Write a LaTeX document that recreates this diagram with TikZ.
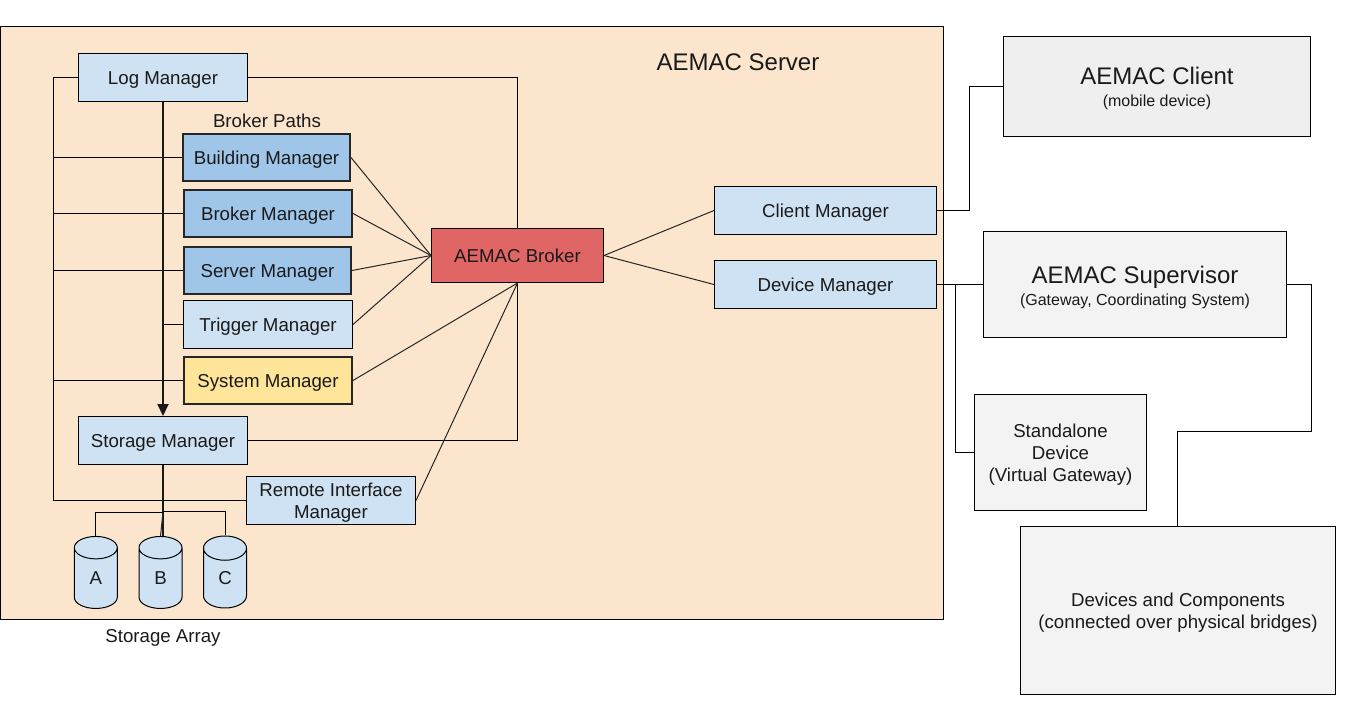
\documentclass[tikz,border=0pt]{standalone}
\usepackage{fontspec}
\setmainfont{Liberation Sans}
\usetikzlibrary{arrows.meta,shapes.geometric}
\definecolor{lightblue}{HTML}{CFE2F3}
\definecolor{midblue}{HTML}{9FC5E8}
\definecolor{sysyellow}{HTML}{FFE599}
\definecolor{brokerred}{HTML}{E06666}
\definecolor{lightgray}{HTML}{F3F3F3}
\definecolor{clientgray}{HTML}{EFEFEF}
\definecolor{serverbg}{HTML}{FCE5CD}
\definecolor{ink}{HTML}{1A1A1A}
\newcommand{\fN}{\fontsize{18.67}{22}\selectfont}
\newcommand{\fL}{\fontsize{24}{28}\selectfont}
\newcommand{\fS}{\fontsize{16}{20}\selectfont}
\newcommand{\rbox}[8][20pt]{\node[basebox,#2,minimum width=#5pt-#3pt,minimum height=#6pt-#4pt] (#7) at ({(#3+#5)/2},{(#4+#6)/2}) {\rule{0pt}{#1}#8\rule[-5.6pt]{0pt}{1pt}};}
\tikzset{
  basebox/.style={draw=black,line width=1pt,rectangle,inner sep=0pt,align=center,font=\fN,text=ink},
  lightbox/.style={fill=lightblue},
  pathbox/.style={fill=midblue,line width=2pt,draw=black!85},
  sysbox/.style={fill=sysyellow,line width=2pt,draw=black!85},
  brokerbox/.style={fill=brokerred},
  outerbox/.style={fill=lightgray},
  clientbox/.style={fill=clientgray},
  link/.style={draw=black,line width=1pt},
  fanlink/.style={draw=black!85,line width=1pt},
  trunk/.style={draw=black!90,line width=2pt},
  disk/.style={shape=cylinder,shape border rotate=90,aspect=1.8,draw=black,line width=1pt,fill=lightblue,
    minimum width=43pt,minimum height=72pt,inner sep=0pt,font=\fN,text=ink},
  caption/.style={inner sep=0pt,font=\fN,text=ink}
}
\begin{document}
\begin{tikzpicture}[x=1pt,y=-1pt]
\useasboundingbox[fill=white] (0,0) rectangle (1372,704);
\rbox{fill=serverbg}{0}{26.5}{943.5}{619.5}{server}{}
\node[caption,font=\fL] (servertitle) at (738,62) {AEMAC Server};
\node[caption] (pathslabel) at (267,121) {Broker Paths};
\node[caption] (arraylabel) at (163,638) {Storage Array};
\rbox{lightbox}{78.5}{53.5}{247.5}{101.5}{log}{Log Manager}
\rbox{pathbox}{183}{134}{350}{181}{bld}{Building Manager}
\rbox{pathbox}{184}{190}{352}{237}{bkm}{Broker Manager}
\rbox{pathbox}{184}{247}{351}{294}{srv}{Server Manager}
\rbox{lightbox}{183.5}{300.5}{352.5}{348.5}{trg}{Trigger Manager}
\rbox{sysbox}{184}{357}{352}{404}{sys}{System Manager}
\rbox{lightbox}{78.5}{416.5}{247.5}{464.5}{sto}{Storage Manager}
\rbox{lightbox}{246.5}{476.5}{415.5}{524.5}{rem}{Remote Interface\\Manager}
\rbox{brokerbox}{431.5}{228.5}{603.5}{282.5}{brk}{AEMAC Broker}
\rbox{lightbox}{714.5}{186.5}{936.5}{234.5}{cli}{Client Manager}
\rbox{lightbox}{714.5}{260.5}{936.5}{308.5}{dev}{Device Manager}
\rbox[24pt]{clientbox}{1003.5}{36.5}{1310.5}{136.5}{client}{{\fL AEMAC Client}\\{\fS (mobile device)}}
\rbox[25.5pt]{outerbox}{983.5}{231.5}{1286.5}{337.5}{sup}{{\fL AEMAC Supervisor}\\{\fS (Gateway, Coordinating System)}}
\rbox{outerbox}{974.5}{394.5}{1146.5}{510.5}{alone}{Standalone\\Device\\(Virtual Gateway)}
\rbox{outerbox}{1020.5}{526.5}{1335.5}{694.5}{comp}{Devices and Components\\(connected over physical bridges)}
\node[disk] (a) at (95.8,578.3) {A};
\node[disk] (b) at (160.5,578.3) {B};
\node[disk] (c) at (225,578.3) {C};
% named routing points
\coordinate (rail) at (53.5,0);
\coordinate (busx) at (163,0);
\coordinate (joinA) at (163,512.5);
\coordinate (joinC) at (163,511.5);
\coordinate (devx) at (955.5,0);
\coordinate (cliup) at (969.5,0);
\coordinate (supx) at (1311.5,0);
\coordinate (compjog) at (0,431.5);
\coordinate (compx) at (1177.5,0);
% left rail
\draw[link] (log.west) -| (rail |- rem.west) -- (rem.west);
\draw[link] (rail |- bld.west) -- (bld.west);
\draw[link] (rail |- bkm.west) -- (bkm.west);
\draw[link] (rail |- srv.west) -- (srv.west);
\draw[link] (rail |- sys.west) -- (sys.west);
\draw[link] (busx |- trg.west) -- (trg.west);
% broker links
\draw[link] (log.east) -| (brk.north);
\draw[link] (sto.east) -| (brk.south);
\foreach \n in {bld,bkm,srv,trg} \draw[fanlink] (\n.east) -- (brk.west);
\draw[fanlink] (sys.east) -- (brk.south);
\draw[fanlink] (rem.east) -- (brk.south);
\draw[fanlink] (brk.east) -- (cli.west);
\draw[fanlink] (brk.east) -- (dev.west);
% thick bus
\draw[trunk,-{Triangle[length=12pt,width=11pt]}] (busx |- log.south) -- (busx |- sto.north);
\draw[trunk] (busx |- sto.south) -- (busx |- b.north);
% storage array
\draw[link] (a.north) |- (joinA);
\draw[link] (c.north) |- (joinC);
\draw[fanlink] (b.north) -- (joinA);
% right side
\draw[link] (cli.east) -| (cliup |- client.west) -- (client.west);
\draw[link] (dev.east) -- (sup.west);
\draw[link] (devx |- dev.east) |- (alone.west);
\draw[link] (sup.east) -| (supx |- compjog) -| (compx |- comp.north);
\end{tikzpicture}
\end{document}
